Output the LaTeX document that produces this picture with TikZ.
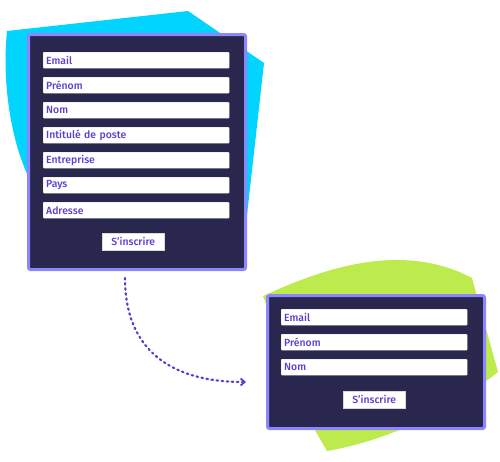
\documentclass[tikz,border=0pt]{standalone}
\usepackage{fontspec}
\setmainfont{Fira Sans}[UprightFont=* Medium]
\usetikzlibrary{arrows.meta}
\definecolor{cyanshape}{HTML}{00D4FF}
\definecolor{limeshape}{HTML}{BDEB4D}
\definecolor{navy}{HTML}{29274E}
\definecolor{lavender}{HTML}{8B85FF}
\definecolor{purpletext}{HTML}{5A3ECF}
\tikzset{
  x=1pt, y=-1pt,
  formbox/.style={draw=lavender, fill=navy, line width=3pt, rounded corners=2pt},
  field/.style={draw=black!15, fill=white, line width=0.4pt, rounded corners=0.8pt, anchor=north west,
    minimum width=186pt, minimum height=16pt, text width=180pt, inner xsep=3pt, inner ysep=0pt, align=left,
    font=\fontsize{10.4}{11}\selectfont, text=purpletext},
  btn/.style={draw=black!15, fill=white, line width=0.4pt, anchor=north west,
    minimum width=62pt, minimum height=17pt, inner sep=0pt,
    font=\fontsize{10.4}{11}\selectfont, text=purpletext},
  flow/.style={draw=purpletext, line width=2.2pt, line cap=round, dash pattern=on 1.5pt off 3.6pt,
    -{Straight Barb[length=4pt,width=7pt,line width=1.8pt]}},
}
\begin{document}
\begin{tikzpicture}
\useasboundingbox (0,0) rectangle (500,461);
% background shapes
\fill[cyanshape] (7,31) -- (188,11) -- (264,63) -- (247,215) -- (30,180)
  .. controls (10,140) and (2,80) .. cycle;
\fill[limeshape] (263,296) .. controls (320,270) and (400,240) .. (472,278)
  -- (498,372) .. controls (450,410) and (390,440) .. (327,451) -- (312,425) -- cycle;
% form 1
\node[formbox, anchor=north west, minimum width=217pt, minimum height=235pt] (form1) at (27,33) {};
\node[field] (f1a) at (43,52) {Email};
\node[field] (f1b) at (43,77) {Prénom};
\node[field] (f1c) at (43,102) {Nom};
\node[field] (f1d) at (43,127) {Intitulé de poste};
\node[field] (f1e) at (43,152) {Entreprise};
\node[field] (f1f) at (43,177) {Pays};
\node[field] (f1g) at (43,202) {Adresse};
\node[btn] (b1) at (102,233) {S’inscrire};
% form 2
\node[formbox, anchor=north west, minimum width=217pt, minimum height=133pt] (form2) at (266,294) {};
\node[field] (f2a) at (281,309) {Email};
\node[field] (f2b) at (281,334) {Prénom};
\node[field] (f2c) at (281,359) {Nom};
\node[btn] (b2) at (343,391) {S’inscrire};
% arrow
\coordinate (arrstart) at (125,278);
\coordinate (arrend) at (246,382);
\draw[flow] (arrstart) .. controls (125,345) and (165,382) .. (arrend);
\end{tikzpicture}
\end{document}
